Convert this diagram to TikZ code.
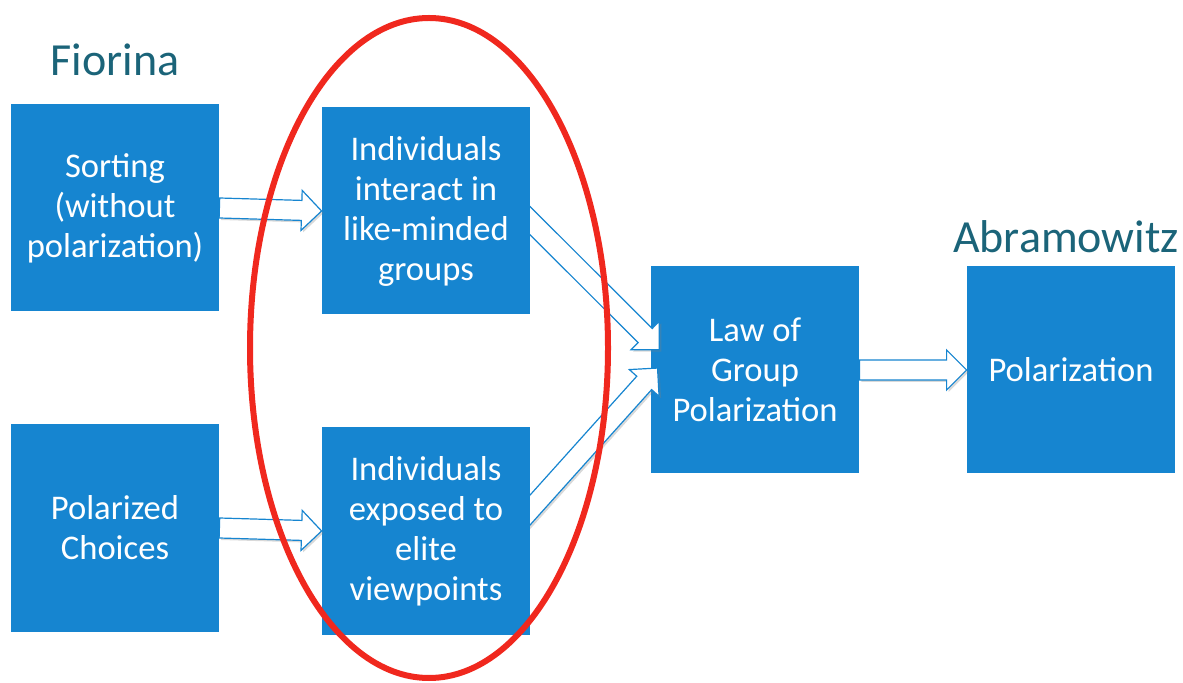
\documentclass[tikz,border=0pt]{standalone}
\usepackage{fontspec}
\setmainfont{Carlito}
\usetikzlibrary{positioning,calc,shadows}
\pgfdeclarelayer{back}
\pgfsetlayers{back,main}
\definecolor{boxblue}{HTML}{1685D0}
\definecolor{headteal}{HTML}{1B6479}
\definecolor{ringred}{HTML}{F0281E}
\tikzset{
  box/.style={fill=boxblue,text=white,minimum width=104pt,minimum height=103.5pt,
    align=center,inner sep=2pt,font=\fontsize{17.3}{20}\selectfont},
  head/.style={text=headteal,font=\fontsize{23}{26}\selectfont},
  fat/.style={draw=boxblue,fill=white,line width=0.6pt,line join=miter,
    drop shadow={opacity=0.3,shadow xshift=1pt,shadow yshift=-1pt}},
}
% hollow block arrow from #1 to #2
\newcommand{\fatarrow}[2]{%
  \draw[fat] let \p1=#1, \p2=#2, \n1={atan2(\y2-\y1,\x2-\x1)},
    \n2={veclen(\x2-\x1,\y2-\y1)} in [shift={(\p1)},rotate=\n1]
    (0pt,-5pt) -- ({\n2*1pt-10pt},-5pt) -- ({\n2*1pt-10pt},-10pt) -- ({\n2*1pt},0pt)
    -- ({\n2*1pt-10pt},10pt) -- ({\n2*1pt-10pt},5pt) -- (0pt,5pt) -- cycle;}

\begin{document}
\begin{tikzpicture}[x=0.5pt,y=-0.5pt,node distance=155.5pt,on grid]
\useasboundingbox (0,0) rectangle (1183,683);
\begin{pgfonlayer}{back}
\node[box] (law) at (755,370) {Law of\\Group\\Polarization};
\end{pgfonlayer}
\node[head] (fio) at (115,60) {Fiorina};
\node[head] (abr) at (1066,237) {Abramowitz};
\node[box] (sort) at (115,208) {Sorting\\(without\\polarization)};
\node[box] (choice) [below=160pt of sort] {Polarized\\Choices};
\node[box] (inter) [right=of sort,yshift=-1.5pt] {Individuals\\interact in\\like-minded\\groups};
\node[box] (expose) [right=of choice,yshift=-1.5pt] {Individuals\\exposed to\\elite\\viewpoints};
\node[box] (pol) [right=158pt of law] {Polarization};
\fatarrow{(sort.east)}{(inter.west)}
\fatarrow{(choice.east)}{(expose.west)}
\begin{pgfonlayer}{back}
\fatarrow{($(inter.east)+(-12,-2)$)}{($(law.west)+(9,-20)$)}
\fatarrow{($(expose.east)+(-12,-8)$)}{($(law.west)+(7,-2)$)}
\end{pgfonlayer}
\fatarrow{(law.east)}{(pol.west)}
\draw[ringred,line width=3pt] (429,348) ellipse [x radius=179,y radius=330];
\end{tikzpicture}
\end{document}
